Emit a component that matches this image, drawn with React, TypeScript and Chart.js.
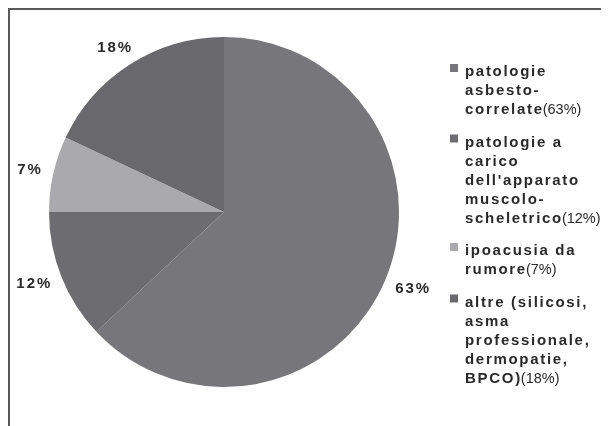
import React, { useEffect, useRef } from 'react';
import { Chart, registerables } from 'chart.js';

Chart.register(...registerables);

const categories = [
  'patologie asbesto-correlate',
  "patologie a carico dell'apparato muscolo-scheletrico",
  'ipoacusia da rumore',
  'altre (silicosi, asma professionale, dermopatie, BPCO)',
];
const values = [63, 12, 7, 18];
const colors = ['#77777b', '#6d6d71', '#aaaaae', '#69696d'];
const legendLines = [
  ['patologie', 'asbesto-', 'correlate'],
  ['patologie a', 'carico', "dell'apparato", 'muscolo-', 'scheletrico'],
  ['ipoacusia da', 'rumore'],
  ['altre (silicosi,', 'asma', 'professionale,', 'dermopatie,', 'BPCO)'],
];

const FONT = '"Liberation Sans", Arial, sans-serif';

const labelPlugin = {
  id: 'customLabels',
  afterDraw(chart: any) {
    const ctx = chart.ctx as CanvasRenderingContext2D;
    const meta = chart.getDatasetMeta(0);
    ctx.save();
    // outside percentage labels
    ctx.fillStyle = '#2a2a2a';
    ctx.font = 'bold 15px ' + FONT;
    (ctx as any).letterSpacing = '2px';
    ctx.textAlign = 'center';
    ctx.textBaseline = 'middle';
    meta.data.forEach((arc: any, i: number) => {
      const p = arc.getProps(['x', 'y', 'startAngle', 'endAngle', 'outerRadius'], true);
      const mid = (p.startAngle + p.endAngle) / 2;
      const text = values[i] + '%';
      const w = ctx.measureText(text).width;
      const h = 14;
      const ux = Math.cos(mid);
      const uy = Math.sin(mid);
      const d = p.outerRadius + 12;
      const lx = p.x + ux * d + (ux * w) / 2;
      const ly = p.y + uy * d + (uy * h) / 2;
      ctx.fillText(text, lx + 1, ly);
    });

    // legend
    const boxX = 440;
    const textX = 455;
    let y = 66;
    const lineH = 19;
    const gap = 13.5;
    ctx.textAlign = 'left';
    ctx.textBaseline = 'alphabetic';
    legendLines.forEach((lines, i) => {
      ctx.fillStyle = colors[i];
      ctx.fillRect(boxX, y - 12, 8, 8);
      lines.forEach((line, j) => {
        ctx.fillStyle = '#2a2a2a';
        ctx.font = 'bold 15px ' + FONT;
        (ctx as any).letterSpacing = '1.7px';
        ctx.fillText(line, textX, y);
        if (j === lines.length - 1) {
          const w = ctx.measureText(line).width;
          ctx.font = '14.5px ' + FONT;
          (ctx as any).letterSpacing = '0px';
          ctx.fillText('(' + values[i] + '%)', textX + w - 1, y);
        }
        if (j < lines.length - 1) y += lineH;
      });
      y += lineH + gap;
    });
    ctx.restore();
  },
};

export default function App() {
  const ref = useRef<HTMLCanvasElement>(null);
  useEffect(() => {
    document.documentElement.style.overflow = 'hidden';
    if (!ref.current) return;
    const chart = new Chart(ref.current, {
      type: 'pie',
      data: {
        labels: categories,
        datasets: [
          {
            data: values,
            backgroundColor: colors,
            borderWidth: 0,
          },
        ],
      },
      options: {
        responsive: false,
        animation: false,
        layout: { padding: { left: 39, right: 210, top: 27, bottom: 29 } },
        plugins: {
          legend: { display: false },
          tooltip: { enabled: false },
        },
      },
      plugins: [labelPlugin],
    });
    return () => chart.destroy();
  }, []);
  return (
    <div
      style={{
        borderTop: '2px solid #5a5a5a',
        borderLeft: '2px solid #5a5a5a',
        width: 599,
        height: 420,
        background: '#fff',
      }}
    >
      <canvas ref={ref} width={599} height={406} style={{ display: 'block' }} />
    </div>
  );
}
